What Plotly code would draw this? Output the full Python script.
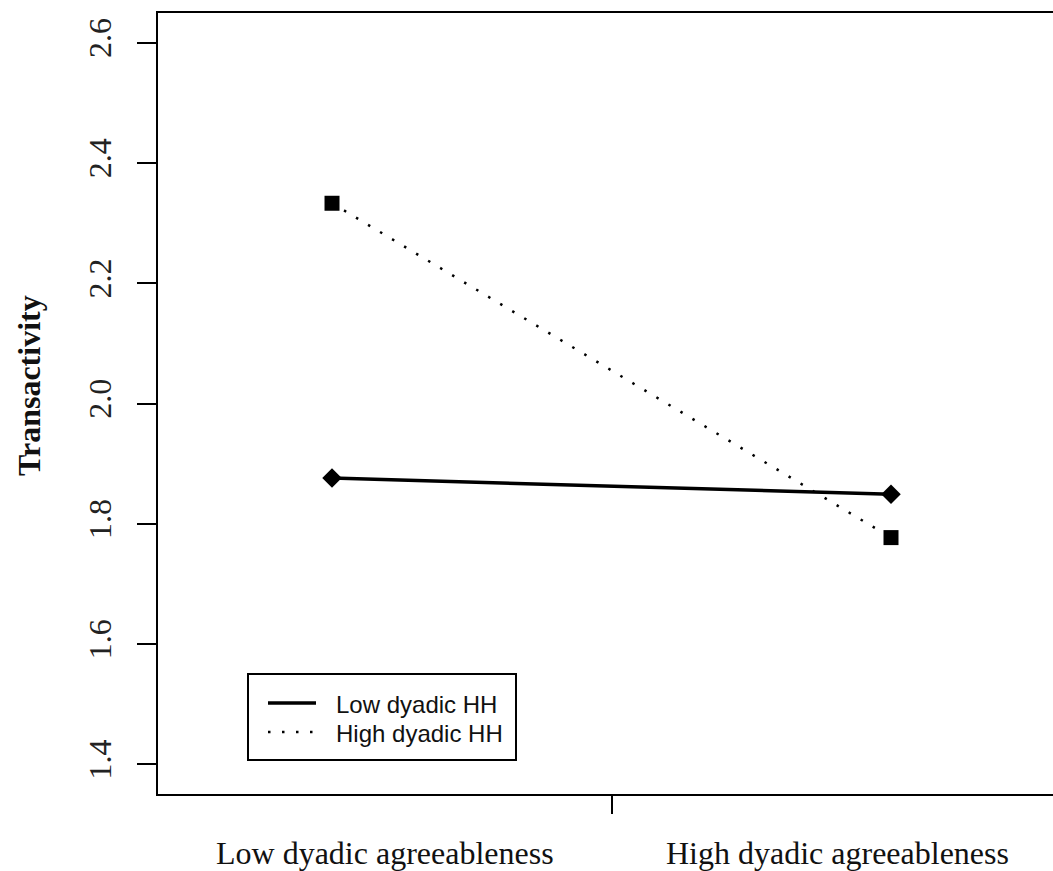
import plotly.graph_objects as go

# ---- data ----
categories = ["Low dyadic agreeableness", "High dyadic agreeableness"]
x_pos = [1, 2]
series_names = ["Low dyadic HH", "High dyadic HH"]
low_hh = [1.876, 1.849]
high_hh = [2.333, 1.777]
y_ticks = [1.4, 1.6, 1.8, 2.0, 2.2, 2.4, 2.6]
y_tick_labels = ["1.4", "1.6", "1.8", "2.0", "2.2", "2.4", "2.6"]
y_title = "Transactivity"

W, H = 1053, 871
L, R, T, B = 158, 0, 13, 77
PW, PH = W - L - R, H - T - B
SERIF = "Liberation Serif, Times New Roman, serif"


def px_x(p):
    return (p - L) / PW


def px_y(p):
    return (H - B - p) / PH


SOLID = dict(color="black", width=3.5)
DOTTED = dict(color="black", width=2.5, dash="2.5px,11.5px")

fig = go.Figure()

fig.add_trace(go.Scatter(
    x=x_pos, y=low_hh, mode="lines+markers", name=series_names[0],
    line=SOLID, marker=dict(symbol="diamond", size=15, color="black"),
))
fig.add_trace(go.Scatter(
    x=x_pos, y=high_hh, mode="lines+markers", name=series_names[1],
    line=DOTTED, marker=dict(symbol="square", size=15, color="black"),
))

# category labels
label_x = [1.095, 1.905]
for cx, txt in zip(label_x, categories):
    fig.add_annotation(
        x=cx, xref="x", y=px_y(853), yref="paper",
        text=txt, showarrow=False, xanchor="center", yanchor="middle",
        font=dict(family=SERIF, size=32, color="#111"),
    )

# y title
fig.add_annotation(
    x=px_x(29), xref="paper", y=px_y(386), yref="paper",
    text="<b>" + y_title + "</b>", textangle=-90, showarrow=False,
    xanchor="center", yanchor="middle",
    font=dict(family=SERIF, size=32, color="#111"),
)

# legend box (drawn manually to match the reference key)
fig.add_shape(type="rect", xref="paper", yref="paper",
              x0=px_x(248), x1=px_x(516), y0=px_y(760), y1=px_y(674),
              line=dict(color="black", width=2), fillcolor="white", layer="above")
for (row_y, style, name) in [(703, SOLID, series_names[0]), (732, DOTTED, series_names[1])]:
    fig.add_shape(type="line", xref="paper", yref="paper",
                  x0=px_x(268), x1=px_x(316), y0=px_y(row_y), y1=px_y(row_y),
                  line=style, layer="above")
    fig.add_annotation(
        x=px_x(334), xref="paper", y=px_y(row_y + 1), yref="paper",
        text=name, showarrow=False, xanchor="left", yanchor="middle",
        font=dict(family="Liberation Sans, Arial, sans-serif", size=24, color="#111"),
    )

fig.update_layout(
    width=W, height=H,
    margin=dict(l=L, r=R, t=T, b=B, pad=0),
    paper_bgcolor="white", plot_bgcolor="white",
    font=dict(family=SERIF, size=32, color="#222"),
    showlegend=False,
    xaxis=dict(
        range=[0.6887, 2.2898],
        tickvals=[1.5], ticktext=[""],
        ticks="outside", ticklen=18, tickwidth=2, tickcolor="black",
        showline=True, linecolor="black", linewidth=2, mirror=True,
        showgrid=False, zeroline=False,
    ),
    yaxis=dict(
        range=[1.3506, 2.6494],
        tickvals=y_ticks, ticktext=y_tick_labels, tickangle=-90,
        ticks="outside", ticklen=19, tickwidth=2, tickcolor="black",
        ticklabelstandoff=13,
        tickfont=dict(family=SERIF, size=32, color="#222"),
        showline=True, linecolor="black", linewidth=2, mirror=False,
        showgrid=False, zeroline=False,
    ),
)

fig.write_html("out.html",
               config={"displayModeBar": False},
               post_script="document.body.style.margin='0px';document.body.style.padding='0px';")
